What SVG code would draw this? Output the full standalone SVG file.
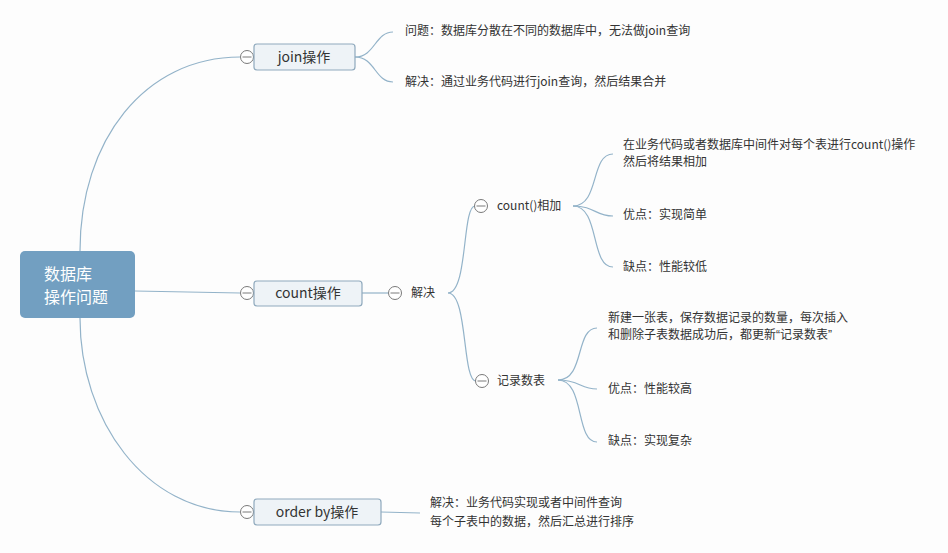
<svg xmlns="http://www.w3.org/2000/svg" width="948" height="553" viewBox="0 0 948 553">
<style>
.bg{fill:#fdfdfd}
.c{fill:none;stroke:#93b3c9;stroke-width:1.2}
.box{fill:#eef3f7;stroke:#8fa9bd;stroke-width:1.2}
.tog{fill:#fff;stroke:#7a7a7a;stroke-width:1}
.tl{stroke:#7a7a7a;stroke-width:1}
text{font-family:"Microsoft YaHei","Noto Sans CJK SC",sans-serif;fill:#333}
.n{font-size:14px;text-anchor:middle}
.s{font-size:12px}
.r{font-size:16px;fill:#fff}
.q{font-family:"Liberation Sans",sans-serif}
</style>
<defs>
<g id="tg"><circle class="tog" r="6.5"/><line class="tl" x1="-4.5" y1="0" x2="4.5" y2="0"/></g>
</defs>
<rect class="bg" width="948" height="553"/>
<g id="connectors">
<path class="c" d="M80,251 C80,140 145,57 240,57"/>
<path class="c" d="M80,318 C80,420 145,512 240,512"/>
<path class="c" d="M135,291 L240,293"/>
<path class="c" d="M355,57 C375,57 375,32 393,32"/>
<path class="c" d="M355,57 C375,57 375,82 393,82"/>
<path class="c" d="M362,293 L388,293"/>
<path class="c" d="M448,293 C468,293 462,206 475,206"/>
<path class="c" d="M448,293 C468,293 462,381 476,381"/>
<path class="c" d="M573,206 C600,206 590,154 613,154"/>
<path class="c" d="M573,206 C595,206 595,216 613,216"/>
<path class="c" d="M573,206 C600,206 590,267 613,267"/>
<path class="c" d="M558,380 C585,380 575,328 597,328"/>
<path class="c" d="M558,380 C580,380 580,389 597,389"/>
<path class="c" d="M558,380 C585,380 575,442 597,442"/>
<path class="c" d="M381,512 L420,513"/>
</g>
<g id="root">
<rect x="20" y="251" width="115" height="67" rx="5" fill="#729fc1"/>
<text class="r" x="44" y="280">数据库</text>
<text class="r" x="44" y="303">操作问题</text>
</g>
<g id="join">
<use href="#tg" x="247" y="57"/>
<rect class="box" x="254" y="44" width="101" height="26" rx="3"/>
<text class="n" x="304" y="62">join操作</text>
</g>
<g id="join-q"><text class="s" x="405" y="35">问题：数据库分散在不同的数据库中，无法做join查询</text></g>
<g id="join-a"><text class="s" x="405" y="86">解决：通过业务代码进行join查询，然后结果合并</text></g>
<g id="count">
<use href="#tg" x="247" y="293"/>
<rect class="box" x="254" y="281" width="108" height="25" rx="3"/>
<text class="n" x="308" y="298">count操作</text>
</g>
<g id="count-solve">
<use href="#tg" x="395" y="293"/>
<text class="s" x="411" y="297">解决</text>
</g>
<g id="count-sum">
<use href="#tg" x="481" y="206"/>
<text class="s" x="497" y="210">count()相加</text>
</g>
<g id="sum-desc">
<text class="s" x="623" y="149">在业务代码或者数据库中间件对每个表进行count()操作</text>
<text class="s" x="623" y="166">然后将结果相加</text>
</g>
<g id="sum-pro"><text class="s" x="623" y="219">优点：实现简单</text></g>
<g id="sum-con"><text class="s" x="623" y="271">缺点：性能较低</text></g>
<g id="count-table">
<use href="#tg" x="482" y="381"/>
<text class="s" x="497" y="385">记录数表</text>
</g>
<g id="table-desc">
<text class="s" x="608" y="322">新建一张表，保存数据记录的数量，每次插入</text>
<text class="s" x="608" y="339">和删除子表数据成功后，都更新<tspan class="q">“</tspan>记录数表<tspan class="q">”</tspan></text>
</g>
<g id="table-pro"><text class="s" x="608" y="393">优点：性能较高</text></g>
<g id="table-con"><text class="s" x="608" y="445">缺点：实现复杂</text></g>
<g id="orderby">
<use href="#tg" x="247" y="512"/>
<rect class="box" x="254" y="499" width="127" height="26" rx="3"/>
<text class="n" x="317" y="517">order by操作</text>
</g>
<g id="orderby-a">
<text class="s" x="430" y="507">解决：业务代码实现或者中间件查询</text>
<text class="s" x="430" y="526">每个子表中的数据，然后汇总进行排序</text>
</g>
</svg>
